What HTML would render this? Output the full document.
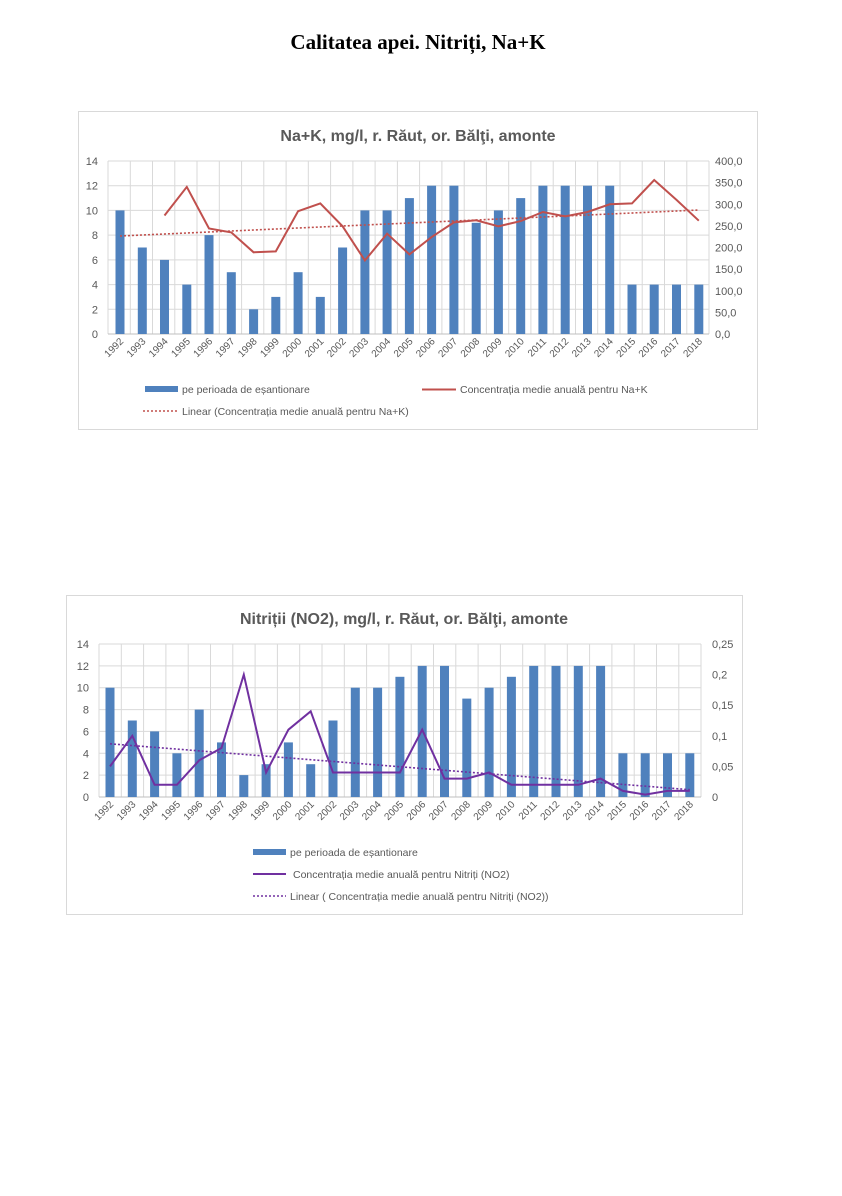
<!DOCTYPE html>
<html><head><meta charset="utf-8"><style>
body{margin:0;background:#fff}
svg text{font-family:"Liberation Sans",sans-serif;fill:#595959}
</style></head><body>
<svg width="842" height="1191" viewBox="0 0 842 1191" xmlns="http://www.w3.org/2000/svg">
<rect width="842" height="1191" fill="#fff"/>
<text x="418" y="49" text-anchor="middle" style="font-family:'Liberation Serif',serif;font-weight:bold;font-size:21px;fill:#000">Calitatea apei. Nitriți, Na+K</text>

<!-- Chart 1 -->
<rect x="78.5" y="111.5" width="679" height="318" fill="#fff" stroke="#d9d9d9"/>
<text x="418" y="141" text-anchor="middle" style="font-size:16px;font-weight:bold">Na+K, mg/l, r. Răut, or. Bălţi, amonte</text>
<g stroke="#d9d9d9" stroke-width="1">
<line x1="108" x2="709" y1="161" y2="161"/><line x1="108" x2="709" y1="185.7" y2="185.7"/><line x1="108" x2="709" y1="210.4" y2="210.4"/><line x1="108" x2="709" y1="235.1" y2="235.1"/><line x1="108" x2="709" y1="259.9" y2="259.9"/><line x1="108" x2="709" y1="284.6" y2="284.6"/><line x1="108" x2="709" y1="309.3" y2="309.3"/>
<path d="M108 161V334M130.3 161V334M152.5 161V334M174.8 161V334M197 161V334M219.3 161V334M241.6 161V334M263.8 161V334M286.1 161V334M308.3 161V334M330.6 161V334M352.9 161V334M375.1 161V334M397.4 161V334M419.6 161V334M441.9 161V334M464.2 161V334M486.4 161V334M508.7 161V334M530.9 161V334M553.2 161V334M575.5 161V334M597.7 161V334M620 161V334M642.2 161V334M664.5 161V334M686.8 161V334M709 161V334"/>
<line x1="108" x2="709" y1="334" y2="334" stroke="#bfbfbf"/>
</g>
<g fill="#4f81bd">
<rect x="115.5" y="210.4" width="9" height="123.6"/><rect x="137.8" y="247.5" width="9" height="86.5"/><rect x="160" y="259.9" width="9" height="74.1"/><rect x="182.3" y="284.6" width="9" height="49.4"/><rect x="204.5" y="235.1" width="9" height="98.9"/><rect x="226.8" y="272.2" width="9" height="61.8"/><rect x="249.1" y="309.3" width="9" height="24.7"/><rect x="271.3" y="296.9" width="9" height="37.1"/><rect x="293.6" y="272.2" width="9" height="61.8"/><rect x="315.8" y="296.9" width="9" height="37.1"/><rect x="338.1" y="247.5" width="9" height="86.5"/><rect x="360.4" y="210.4" width="9" height="123.6"/><rect x="382.6" y="210.4" width="9" height="123.6"/><rect x="404.9" y="198.1" width="9" height="135.9"/><rect x="427.1" y="185.7" width="9" height="148.3"/><rect x="449.4" y="185.7" width="9" height="148.3"/><rect x="471.7" y="222.8" width="9" height="111.2"/><rect x="493.9" y="210.4" width="9" height="123.6"/><rect x="516.2" y="198.1" width="9" height="135.9"/><rect x="538.4" y="185.7" width="9" height="148.3"/><rect x="560.7" y="185.7" width="9" height="148.3"/><rect x="583" y="185.7" width="9" height="148.3"/><rect x="605.2" y="185.7" width="9" height="148.3"/><rect x="627.5" y="284.6" width="9" height="49.4"/><rect x="649.7" y="284.6" width="9" height="49.4"/><rect x="672" y="284.6" width="9" height="49.4"/><rect x="694.3" y="284.6" width="9" height="49.4"/>
</g>
<polyline fill="none" stroke="#c0504d" stroke-width="2" points="164.5,215.5 186.8,186.9 209,228.5 231.3,232.4 253.6,252.3 275.8,251.4 298.1,211.2 320.3,203.4 342.6,226.3 364.9,260.5 387.1,233.7 409.4,254.4 431.6,237.1 453.9,222.4 476.2,220.3 498.4,226.3 520.7,221.1 542.9,212 565.2,216.4 587.5,212 609.7,204.3 632,203.4 654.2,180 676.5,199.9 698.8,220.7"/>
<line x1="120" y1="236" x2="698.8" y2="210" stroke="#c0504d" stroke-width="1.6" stroke-dasharray="2,2"/>
<g style="font-size:11px" text-anchor="end">
<text x="98" y="165">14</text><text x="98" y="189.7">12</text><text x="98" y="214.4">10</text><text x="98" y="239.1">8</text><text x="98" y="263.9">6</text><text x="98" y="288.6">4</text><text x="98" y="313.3">2</text><text x="98" y="338">0</text>
</g>
<g style="font-size:11px" text-anchor="start">
<text x="715" y="165">400,0</text><text x="715" y="186.6">350,0</text><text x="715" y="208.3">300,0</text><text x="715" y="229.9">250,0</text><text x="715" y="251.5">200,0</text><text x="715" y="273.1">150,0</text><text x="715" y="294.8">100,0</text><text x="715" y="316.4">50,0</text><text x="715" y="338">0,0</text>
</g>
<g style="font-size:10px" text-anchor="end">
<text transform="translate(124,342) rotate(-45)">1992</text><text transform="translate(146.3,342) rotate(-45)">1993</text><text transform="translate(168.5,342) rotate(-45)">1994</text><text transform="translate(190.8,342) rotate(-45)">1995</text><text transform="translate(213,342) rotate(-45)">1996</text><text transform="translate(235.3,342) rotate(-45)">1997</text><text transform="translate(257.6,342) rotate(-45)">1998</text><text transform="translate(279.8,342) rotate(-45)">1999</text><text transform="translate(302.1,342) rotate(-45)">2000</text><text transform="translate(324.3,342) rotate(-45)">2001</text><text transform="translate(346.6,342) rotate(-45)">2002</text><text transform="translate(368.9,342) rotate(-45)">2003</text><text transform="translate(391.1,342) rotate(-45)">2004</text><text transform="translate(413.4,342) rotate(-45)">2005</text><text transform="translate(435.6,342) rotate(-45)">2006</text><text transform="translate(457.9,342) rotate(-45)">2007</text><text transform="translate(480.2,342) rotate(-45)">2008</text><text transform="translate(502.4,342) rotate(-45)">2009</text><text transform="translate(524.7,342) rotate(-45)">2010</text><text transform="translate(546.9,342) rotate(-45)">2011</text><text transform="translate(569.2,342) rotate(-45)">2012</text><text transform="translate(591.5,342) rotate(-45)">2013</text><text transform="translate(613.7,342) rotate(-45)">2014</text><text transform="translate(636,342) rotate(-45)">2015</text><text transform="translate(658.2,342) rotate(-45)">2016</text><text transform="translate(680.5,342) rotate(-45)">2017</text><text transform="translate(702.8,342) rotate(-45)">2018</text>
</g>
<rect x="145" y="386" width="33" height="6" fill="#4f81bd"/>
<text x="182" y="393" style="font-size:10.5px">pe perioada de eșantionare</text>
<line x1="422" y1="389.5" x2="456" y2="389.5" stroke="#c0504d" stroke-width="2"/>
<text x="460" y="393" style="font-size:10.5px">Concentrația medie anuală pentru Na+K</text>
<line x1="143" y1="411" x2="178" y2="411" stroke="#c0504d" stroke-width="1.6" stroke-dasharray="2,2"/>
<text x="182" y="415" style="font-size:10.5px">Linear (Concentrația medie anuală pentru Na+K)</text>

<!-- Chart 2 -->
<rect x="66.5" y="595.5" width="676" height="319" fill="#fff" stroke="#d9d9d9"/>
<text x="404" y="624" text-anchor="middle" style="font-size:16px;font-weight:bold">Nitriții (NO2), mg/l, r. Răut, or. Bălţi, amonte</text>
<g stroke="#d9d9d9" stroke-width="1">
<line x1="99" x2="701" y1="644" y2="644"/><line x1="99" x2="701" y1="665.9" y2="665.9"/><line x1="99" x2="701" y1="687.7" y2="687.7"/><line x1="99" x2="701" y1="709.6" y2="709.6"/><line x1="99" x2="701" y1="731.4" y2="731.4"/><line x1="99" x2="701" y1="753.3" y2="753.3"/><line x1="99" x2="701" y1="775.1" y2="775.1"/>
<path d="M99 644V797M121.3 644V797M143.6 644V797M165.9 644V797M188.2 644V797M210.5 644V797M232.8 644V797M255.1 644V797M277.4 644V797M299.7 644V797M322 644V797M344.3 644V797M366.6 644V797M388.9 644V797M411.2 644V797M433.5 644V797M455.8 644V797M478.1 644V797M500.4 644V797M522.7 644V797M545 644V797M567.3 644V797M589.6 644V797M611.9 644V797M634.2 644V797M656.5 644V797M678.8 644V797M701 644V797"/>
<line x1="99" x2="701" y1="797" y2="797" stroke="#bfbfbf"/>
</g>
<g fill="#4f81bd">
<rect x="105.5" y="687.7" width="9" height="109.3"/><rect x="127.8" y="720.5" width="9" height="76.5"/><rect x="150.1" y="731.4" width="9" height="65.6"/><rect x="172.4" y="753.3" width="9" height="43.7"/><rect x="194.7" y="709.6" width="9" height="87.4"/><rect x="217" y="742.4" width="9" height="54.6"/><rect x="239.3" y="775.1" width="9" height="21.9"/><rect x="261.6" y="764.2" width="9" height="32.8"/><rect x="283.9" y="742.4" width="9" height="54.6"/><rect x="306.2" y="764.2" width="9" height="32.8"/><rect x="328.5" y="720.5" width="9" height="76.5"/><rect x="350.8" y="687.7" width="9" height="109.3"/><rect x="373.1" y="687.7" width="9" height="109.3"/><rect x="395.4" y="676.8" width="9" height="120.2"/><rect x="417.7" y="665.9" width="9" height="131.1"/><rect x="440" y="665.9" width="9" height="131.1"/><rect x="462.3" y="698.6" width="9" height="98.4"/><rect x="484.6" y="687.7" width="9" height="109.3"/><rect x="506.9" y="676.8" width="9" height="120.2"/><rect x="529.2" y="665.9" width="9" height="131.1"/><rect x="551.5" y="665.9" width="9" height="131.1"/><rect x="573.8" y="665.9" width="9" height="131.1"/><rect x="596.1" y="665.9" width="9" height="131.1"/><rect x="618.4" y="753.3" width="9" height="43.7"/><rect x="640.7" y="753.3" width="9" height="43.7"/><rect x="663" y="753.3" width="9" height="43.7"/><rect x="685.3" y="753.3" width="9" height="43.7"/>
</g>
<polyline fill="none" stroke="#7030a0" stroke-width="2" points="110,766.4 132.3,735.8 154.6,784.8 176.9,784.8 199.2,760.3 221.5,748 243.8,674.6 266.1,772.5 288.4,729.7 310.7,711.3 333,772.5 355.3,772.5 377.6,772.5 399.9,772.5 422.2,729.7 444.5,778.6 466.8,778.6 489.1,772.5 511.4,784.8 533.7,784.8 556,784.8 578.3,784.8 600.6,778.6 622.9,790.9 645.2,794.6 667.5,790.9 689.8,790.9"/>
<line x1="110" y1="743.8" x2="689.8" y2="789.7" stroke="#7030a0" stroke-width="1.6" stroke-dasharray="2,2"/>
<g style="font-size:11px" text-anchor="end">
<text x="89" y="648">14</text><text x="89" y="669.9">12</text><text x="89" y="691.7">10</text><text x="89" y="713.6">8</text><text x="89" y="735.4">6</text><text x="89" y="757.3">4</text><text x="89" y="779.1">2</text><text x="89" y="801">0</text>
</g>
<g style="font-size:11px">
<text x="712" y="648">0,25</text><text x="712" y="678.6">0,2</text><text x="712" y="709.2">0,15</text><text x="712" y="739.8">0,1</text><text x="712" y="770.4">0,05</text><text x="712" y="801">0</text>
</g>
<g style="font-size:10px" text-anchor="end">
<text transform="translate(114,805) rotate(-45)">1992</text><text transform="translate(136.3,805) rotate(-45)">1993</text><text transform="translate(158.6,805) rotate(-45)">1994</text><text transform="translate(180.9,805) rotate(-45)">1995</text><text transform="translate(203.2,805) rotate(-45)">1996</text><text transform="translate(225.5,805) rotate(-45)">1997</text><text transform="translate(247.8,805) rotate(-45)">1998</text><text transform="translate(270.1,805) rotate(-45)">1999</text><text transform="translate(292.4,805) rotate(-45)">2000</text><text transform="translate(314.7,805) rotate(-45)">2001</text><text transform="translate(337,805) rotate(-45)">2002</text><text transform="translate(359.3,805) rotate(-45)">2003</text><text transform="translate(381.6,805) rotate(-45)">2004</text><text transform="translate(403.9,805) rotate(-45)">2005</text><text transform="translate(426.2,805) rotate(-45)">2006</text><text transform="translate(448.5,805) rotate(-45)">2007</text><text transform="translate(470.8,805) rotate(-45)">2008</text><text transform="translate(493.1,805) rotate(-45)">2009</text><text transform="translate(515.4,805) rotate(-45)">2010</text><text transform="translate(537.7,805) rotate(-45)">2011</text><text transform="translate(560,805) rotate(-45)">2012</text><text transform="translate(582.3,805) rotate(-45)">2013</text><text transform="translate(604.6,805) rotate(-45)">2014</text><text transform="translate(626.9,805) rotate(-45)">2015</text><text transform="translate(649.2,805) rotate(-45)">2016</text><text transform="translate(671.5,805) rotate(-45)">2017</text><text transform="translate(693.8,805) rotate(-45)">2018</text>
</g>
<rect x="253" y="849" width="33" height="6" fill="#4f81bd"/>
<text x="290" y="856" style="font-size:10.5px">pe perioada de eșantionare</text>
<line x1="253" y1="874" x2="286" y2="874" stroke="#7030a0" stroke-width="2"/>
<text x="293" y="878" style="font-size:10.5px">Concentrația medie anuală pentru Nitriți (NO2)</text>
<line x1="253" y1="896" x2="286" y2="896" stroke="#7030a0" stroke-width="1.6" stroke-dasharray="2,2"/>
<text x="290" y="900" style="font-size:10.5px">Linear ( Concentrația medie anuală pentru Nitriți (NO2))</text>
</svg>
</body></html>
